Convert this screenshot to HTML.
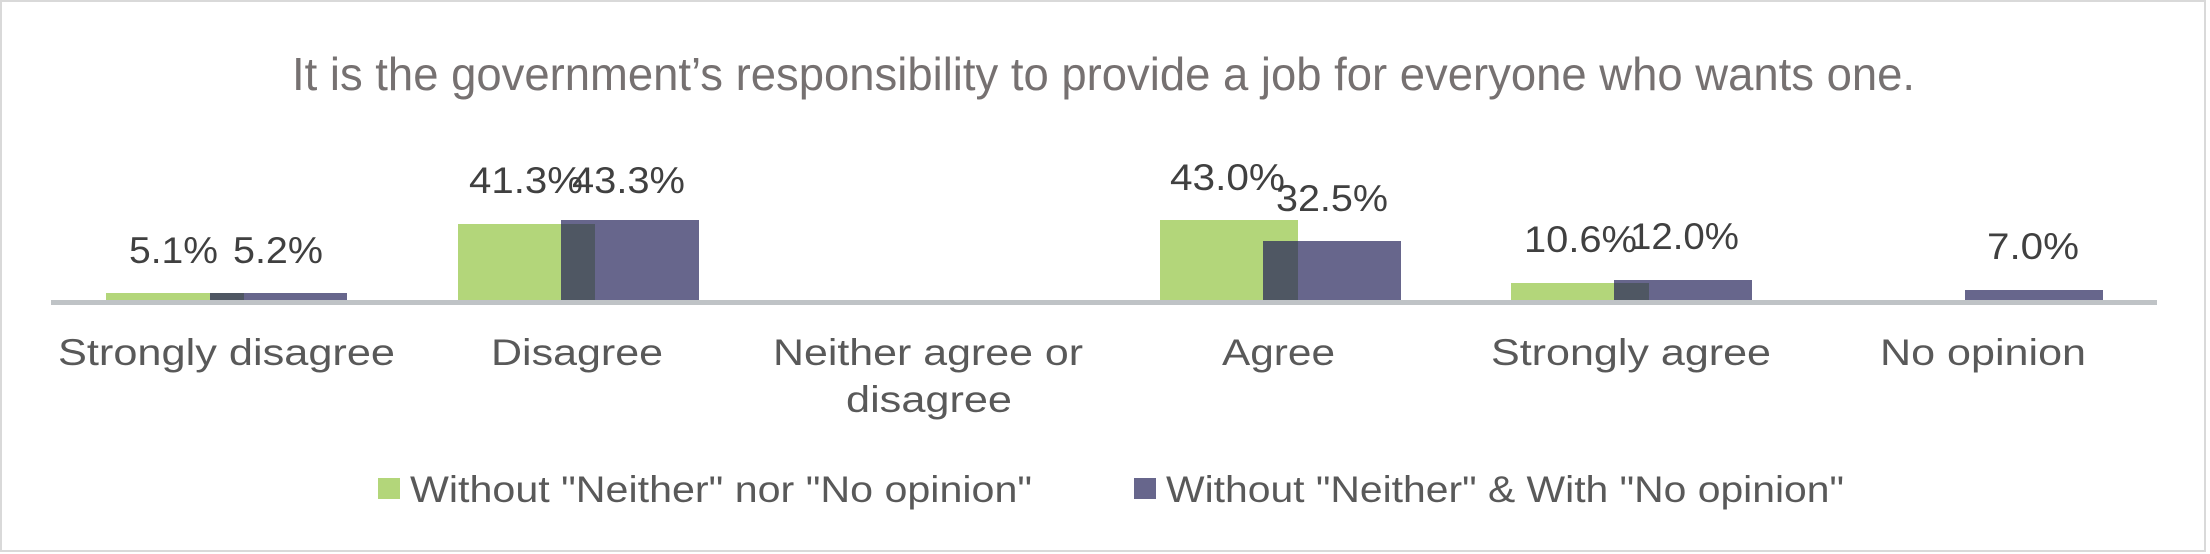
<!DOCTYPE html>
<html><head><meta charset="utf-8"><style>
html,body{margin:0;padding:0;background:#fff;}
svg{display:block;}
text{font-family:"Liberation Sans",Arial,sans-serif;}
</style></head><body>
<svg width="2210" height="554" viewBox="0 0 2210 554" xmlns="http://www.w3.org/2000/svg">
<rect x="1" y="1" width="2204" height="550" fill="#fff" stroke="#d9d9d9" stroke-width="2"/>
<text x="292" y="90" font-size="46" fill="#767171" textLength="1623" lengthAdjust="spacingAndGlyphs">It is the government’s responsibility to provide a job for everyone who wants one.</text>
<!-- bars -->
<g>
<rect x="210" y="293" width="137" height="8" fill="#67668c"/>
<rect x="106" y="293" width="138" height="8" fill="#b3d67a"/>
<rect x="210" y="293" width="34" height="8" fill="#4f5763"/>

<rect x="561" y="220" width="138" height="81" fill="#67668c"/>
<rect x="458" y="224" width="137" height="77" fill="#b3d67a"/>
<rect x="561" y="224" width="34" height="77" fill="#4f5763"/>

<rect x="1263" y="241" width="138" height="60" fill="#67668c"/>
<rect x="1160" y="220" width="138" height="81" fill="#b3d67a"/>
<rect x="1263" y="241" width="35" height="60" fill="#4f5763"/>

<rect x="1614" y="280" width="138" height="21" fill="#67668c"/>
<rect x="1511" y="283" width="138" height="18" fill="#b3d67a"/>
<rect x="1614" y="283" width="35" height="18" fill="#4f5763"/>

<rect x="1965" y="290" width="138" height="11" fill="#67668c"/>
</g>
<rect x="51" y="300" width="2106" height="5" fill="#bfc3c6"/>
<!-- data labels -->
<g font-size="37" fill="#404040">
<text x="129" y="263" textLength="89" lengthAdjust="spacingAndGlyphs">5.1%</text>
<text x="233" y="263" textLength="90" lengthAdjust="spacingAndGlyphs">5.2%</text>
<text x="469" y="193" textLength="114" lengthAdjust="spacingAndGlyphs">41.3%</text>
<text x="572" y="193" textLength="113" lengthAdjust="spacingAndGlyphs">43.3%</text>
<text x="1170" y="190" textLength="115" lengthAdjust="spacingAndGlyphs">43.0%</text>
<text x="1276" y="211" textLength="112" lengthAdjust="spacingAndGlyphs">32.5%</text>
<text x="1524" y="252" textLength="113" lengthAdjust="spacingAndGlyphs">10.6%</text>
<text x="1630" y="249" textLength="109" lengthAdjust="spacingAndGlyphs">12.0%</text>
<text x="1987" y="259" textLength="92" lengthAdjust="spacingAndGlyphs">7.0%</text>
</g>
<!-- category labels -->
<g font-size="37" fill="#595959">
<text x="58" y="365" textLength="337" lengthAdjust="spacingAndGlyphs">Strongly disagree</text>
<text x="491" y="365" textLength="172" lengthAdjust="spacingAndGlyphs">Disagree</text>
<text x="773" y="365" textLength="310" lengthAdjust="spacingAndGlyphs">Neither agree or</text>
<text x="846" y="412" textLength="166" lengthAdjust="spacingAndGlyphs">disagree</text>
<text x="1222" y="365" textLength="113" lengthAdjust="spacingAndGlyphs">Agree</text>
<text x="1491" y="365" textLength="280" lengthAdjust="spacingAndGlyphs">Strongly agree</text>
<text x="1880" y="365" textLength="206" lengthAdjust="spacingAndGlyphs">No opinion</text>
</g>
<!-- legend -->
<rect x="378" y="478" width="22" height="21" fill="#b3d67a"/>
<rect x="1134" y="478" width="22" height="21" fill="#67668c"/>
<g font-size="37" fill="#595959">
<text x="410" y="502" textLength="622" lengthAdjust="spacingAndGlyphs">Without "Neither" nor "No opinion"</text>
<text x="1166" y="502" textLength="678" lengthAdjust="spacingAndGlyphs">Without "Neither" &amp; With "No opinion"</text>
</g>
</svg>
</body></html>
